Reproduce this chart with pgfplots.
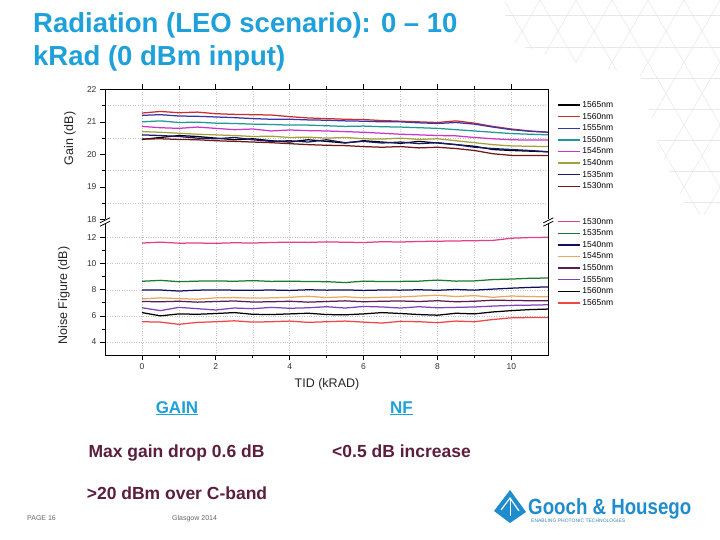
\documentclass[border=0pt]{standalone}
\usepackage{fontspec}
\setmainfont{Liberation Sans}
\usepackage{pgfplots}
\usepackage{pgfplotstable}
\pgfplotsset{compat=1.18}
\definecolor{titleblue}{RGB}{30,160,218}
\definecolor{txtmaroon}{RGB}{92,30,62}
\definecolor{logoblue}{RGB}{30,140,205}
% gain colours
\definecolor{gRed}{RGB}{205,45,45}
\definecolor{gBlue}{RGB}{55,55,165}
\definecolor{gTeal}{RGB}{35,150,150}
\definecolor{gMag}{RGB}{200,55,200}
\definecolor{gOlive}{RGB}{165,160,60}
\definecolor{gNavy}{RGB}{25,25,110}
\definecolor{gMaroon}{RGB}{112,25,25}
% NF colours
\definecolor{nPink}{RGB}{225,65,135}
\definecolor{nGreen}{RGB}{30,120,45}
\definecolor{nNavy}{RGB}{15,15,95}
\definecolor{nOrange}{RGB}{232,168,95}
\definecolor{nDPurple}{RGB}{85,30,85}
\definecolor{nPurple}{RGB}{130,65,180}
\definecolor{nRed}{RGB}{240,70,70}

\pgfplotstableread{
x a1565 a1560 a1555 a1550 a1545 a1540 a1535 a1530
0   20.46 21.27 21.20 21.00 20.86 20.70 20.60 20.47
0.5 20.52 21.32 21.22 21.03 20.82 20.68 20.58 20.48
1   20.58 21.28 21.18 20.98 20.80 20.65 20.55 20.46
1.5 20.55 21.30 21.17 20.99 20.84 20.62 20.50 20.45
2   20.50 21.25 21.15 20.96 20.80 20.60 20.48 20.42
2.5 20.45 21.23 21.13 20.95 20.76 20.58 20.52 20.40
3   20.48 21.22 21.10 20.93 20.78 20.55 20.45 20.38
3.5 20.42 21.21 21.08 20.92 20.72 20.56 20.40 20.36
4   20.38 21.16 21.08 20.90 20.75 20.52 20.42 20.33
4.5 20.45 21.12 21.06 20.90 20.73 20.53 20.38 20.30
5   20.40 21.10 21.05 20.88 20.72 20.50 20.45 20.28
5.5 20.35 21.08 21.03 20.86 20.70 20.52 20.36 20.27
6   20.42 21.07 21.02 20.87 20.68 20.48 20.40 20.24
6.5 20.38 21.04 21.00 20.85 20.65 20.47 20.35 20.22
7   20.34 21.02 21.00 20.84 20.62 20.50 20.38 20.24
7.5 20.40 21.00 20.97 20.82 20.60 20.46 20.33 20.20
8   20.35 20.98 20.95 20.80 20.58 20.48 20.36 20.22
8.5 20.30 21.03 20.98 20.76 20.57 20.42 20.30 20.18
9   20.25 20.96 20.93 20.72 20.52 20.36 20.22 20.12
9.5 20.15 20.86 20.84 20.68 20.48 20.30 20.18 20.02
10  20.12 20.78 20.76 20.64 20.45 20.26 20.15 19.97
10.5 20.10 20.72 20.71 20.62 20.44 20.25 20.12 19.97
11  20.08 20.68 20.68 20.60 20.44 20.24 20.08 19.97
}\gaintab

\pgfplotstableread{
x n1530 n1535 n1540 n1545 n1550 n1555 n1560 n1565
0   11.58 8.65 7.98 7.30 7.10 6.62 6.25 5.55
0.5 11.65 8.72 7.98 7.38 7.08 6.40 6.00 5.52
1   11.57 8.62 7.90 7.32 7.12 6.65 6.15 5.35
1.5 11.58 8.66 7.97 7.28 7.05 6.55 6.12 5.50
2   11.56 8.68 7.98 7.38 7.10 6.45 6.18 5.55
2.5 11.60 8.65 7.97 7.40 7.14 6.60 6.25 5.62
3   11.58 8.70 7.96 7.36 7.06 6.55 6.12 5.52
3.5 11.62 8.64 7.98 7.38 7.08 6.65 6.10 5.55
4   11.65 8.66 7.95 7.42 7.12 6.58 6.15 5.60
4.5 11.63 8.63 8.00 7.50 7.05 6.62 6.20 5.50
5   11.67 8.62 7.97 7.40 7.10 6.70 6.10 5.55
5.5 11.64 8.55 7.99 7.46 7.15 6.60 6.08 5.60
6   11.62 8.66 7.95 7.38 7.08 6.72 6.15 5.52
6.5 11.68 8.63 7.98 7.42 7.12 6.68 6.25 5.45
7   11.66 8.64 7.97 7.45 7.14 6.60 6.18 5.58
7.5 11.70 8.66 8.00 7.52 7.10 6.70 6.10 5.55
8   11.72 8.74 7.96 7.58 7.16 6.62 6.05 5.48
8.5 11.74 8.66 8.02 7.48 7.08 6.65 6.20 5.60
9   11.76 8.68 7.97 7.55 7.12 6.68 6.15 5.55
9.5 11.78 8.78 8.05 7.42 7.20 6.75 6.30 5.72
10  11.95 8.82 8.12 7.52 7.18 6.80 6.40 5.85
10.5 12.00 8.88 8.18 7.48 7.16 6.82 6.48 5.87
11  12.02 8.90 8.22 7.46 7.15 6.85 6.52 5.87
}\nftab

\pgfplotsset{
  myax/.style={
    scale only axis, width=443.3pt, xmin=-1, xmax=11,
    tick align=outside, major tick length=5pt, minor tick length=3pt,
    tick style={black, line width=0.7pt},
    axis line style={draw=none},
    grid style={gray!45, dotted, line width=0.5pt},
    minor grid style={gray!45, dotted, line width=0.5pt},
    xtick={0,2,...,10}, minor xtick={1,3,...,9},
    xmajorgrids, xminorgrids,
    ticklabel style={font=\fontsize{8.5}{8.5}\selectfont, text=black!80},
    /pgf/number format/assume math mode=true,
    every axis plot/.append style={line width=1.25pt},
    label style={font=\fontsize{12.5}{12.5}\selectfont, text=black!85},
    legend style={draw=none, fill=none, inner sep=0pt, outer sep=0pt,
      font=\fontsize{8.5}{8.5}\selectfont,
      nodes={inner sep=0pt, text height=6pt, text depth=1pt},
      row sep=4.6pt, column sep=2pt, anchor=north west},
    legend cell align=left,
    legend image code/.code={\draw[##1, line width=1.4pt] (0pt,0pt) -- (22pt,0pt);},
  }
}

\begin{document}
\begin{tikzpicture}
\begin{scope}[x=1pt,y=-1pt]
  \path[use as bounding box, fill=white] (0,0) rectangle (720,540);
  % background pattern (kagome-like)
  \begin{scope}
    \clip (505,0) -- (720,0) -- (720,215) -- (690,215) -- (660,150) -- (640,75) -- (560,60) -- (505,40) -- cycle;
    \foreach \c in {144,180,...,756} {
      \draw[gray!18, line width=0.5pt] (\c,0) -- ({\c+150},259.8);
    }
    \foreach \c in {468,504,...,1008} {
      \draw[gray!18, line width=0.5pt] (\c,0) -- ({\c-150},259.8);
    }
    \foreach \k in {0,1,...,7} {
      \draw[gray!18, line width=0.5pt] (480,{31.18*\k+15.59}) -- (720,{31.18*\k+15.59});
    }
  \end{scope}
  \fill[white] (55,72) rectangle (632,395);
\end{scope}

% ---------- Gain axis ----------
\begin{axis}[myax,
  at={(105pt,-219.5pt)}, anchor=south west,
  height=130.2pt, ymin=18, ymax=22,
  ytick={18,19,...,22}, minor ytick={18.5,19.5,20.5,21.5},
  yminorgrids,
  xtick pos=right, xticklabels={},
  ytick pos=left,
  ylabel={Gain (dB)},
  ylabel style={at={(axis description cs:-0.079,0.622)}, anchor=center},
  legend style={at={(axis description cs:1.0196,0.906)}},
]
\addplot[black]   table[x=x,y=a1565] {\gaintab}; \addlegendentry{1565nm}
\addplot[gRed]    table[x=x,y=a1560] {\gaintab}; \addlegendentry{1560nm}
\addplot[gBlue]   table[x=x,y=a1555] {\gaintab}; \addlegendentry{1555nm}
\addplot[gTeal]   table[x=x,y=a1550] {\gaintab}; \addlegendentry{1550nm}
\addplot[gMag]    table[x=x,y=a1545] {\gaintab}; \addlegendentry{1545nm}
\addplot[gOlive]  table[x=x,y=a1540] {\gaintab}; \addlegendentry{1540nm}
\addplot[gNavy]   table[x=x,y=a1535] {\gaintab}; \addlegendentry{1535nm}
\addplot[gMaroon] table[x=x,y=a1530] {\gaintab}; \addlegendentry{1530nm}
\end{axis}

% ---------- NF axis ----------
\begin{axis}[myax,
  at={(105pt,-355pt)}, anchor=south west,
  height=133.1pt, ymin=3, ymax=13.2,
  ytick={4,6,...,12}, minor ytick={5,7,9,11},
  ymajorgrids,
  xtick pos=left, ytick pos=left,
  xlabel={TID (kRAD)},
  xlabel style={at={(axis description cs:0.5008,-0.218)}, anchor=center},
  ylabel={Noise Figure (dB)},
  ylabel style={at={(axis description cs:-0.0925,0.447)}, anchor=center},
  legend style={at={(axis description cs:1.0196,1.028)}},
]
\addplot[nPink]    table[x=x,y=n1530] {\nftab}; \addlegendentry{1530nm}
\addplot[nGreen]   table[x=x,y=n1535] {\nftab}; \addlegendentry{1535nm}
\addplot[nNavy]    table[x=x,y=n1540] {\nftab}; \addlegendentry{1540nm}
\addplot[nOrange]  table[x=x,y=n1545] {\nftab}; \addlegendentry{1545nm}
\addplot[nDPurple] table[x=x,y=n1550] {\nftab}; \addlegendentry{1550nm}
\addplot[nPurple]  table[x=x,y=n1555] {\nftab}; \addlegendentry{1555nm}
\addplot[black]    table[x=x,y=n1560] {\nftab}; \addlegendentry{1560nm}
\addplot[nRed]     table[x=x,y=n1565] {\nftab}; \addlegendentry{1565nm}
\end{axis}

\begin{scope}[x=1pt,y=-1pt]
  % frames
  \draw[line width=0.9pt] (105,219.5) -- (105,89.3) -- (548.3,89.3) -- (548.3,219.5);
  \draw[line width=0.9pt] (105,221.9) -- (105,355) -- (548.3,355) -- (548.3,221.9);
  % break marks
  \foreach \bx in {105,548.3} {
    \fill[white] ({\bx-5},223.5) -- ({\bx+5},218.5) -- ({\bx+5},221.5) -- ({\bx-5},226.5) -- cycle;
    \draw[line width=0.8pt] ({\bx-5},222.8) -- ({\bx+5},217.8);
    \draw[line width=0.8pt] ({\bx-5},226.2) -- ({\bx+5},221.2);
  }
  % title
  \node[anchor=base west, inner sep=0pt, text=titleblue, font=\fontsize{27.5}{30}\selectfont\bfseries] at (33,33) {Radiation (LEO scenario): 0 – 10};
  \node[anchor=base west, inner sep=0pt, text=titleblue, font=\fontsize{27.5}{30}\selectfont\bfseries] at (33,66) {kRad (0 dBm input)};
  % bottom texts
  \node[anchor=base, inner sep=0pt, text=titleblue, font=\fontsize{17}{17}\selectfont\bfseries] at (177,413) {\underline{GAIN}};
  \node[anchor=base, inner sep=0pt, text=titleblue, font=\fontsize{17}{17}\selectfont\bfseries] at (401.5,413) {\underline{NF}};
  \node[anchor=base, inner sep=0pt, text=txtmaroon, font=\fontsize{17.5}{17.5}\selectfont\bfseries] at (176.5,457) {Max gain drop 0.6 dB};
  \node[anchor=base, inner sep=0pt, text=txtmaroon, font=\fontsize{17.5}{17.5}\selectfont\bfseries] at (401.5,457) {<0.5 dB increase};
  \node[anchor=base, inner sep=0pt, text=txtmaroon, font=\fontsize{17.5}{17.5}\selectfont\bfseries] at (177,499) {>20 dBm over C-band};
  \node[anchor=base west, inner sep=0pt, text=gray!80!black, font=\fontsize{7}{7}\selectfont] at (27,520) {PAGE 16};
  \node[anchor=base west, inner sep=0pt, text=gray!80!black, font=\fontsize{7}{7}\selectfont] at (172,520) {Glasgow 2014};
  % logo
  \fill[logoblue] (494,511) -- (510,490) -- (526,512) -- (510,523) -- cycle;
  \draw[white, line width=1.2pt] (501,510) -- (510,498) -- (519,511);
  \draw[white, line width=0.8pt] (510,498) -- (510,516);
  \node[anchor=base west, inner sep=0pt, text=logoblue, font=\fontsize{22}{22}\selectfont\bfseries] at (528,514) {\scalebox{0.85}[1]{Gooch \& Housego}};
  \node[anchor=base west, inner sep=0pt, text=logoblue!70!gray, font=\fontsize{5}{5}\selectfont] at (531,522) {ENABLING PHOTONIC TECHNOLOGIES};
\end{scope}
\end{tikzpicture}
\end{document}
